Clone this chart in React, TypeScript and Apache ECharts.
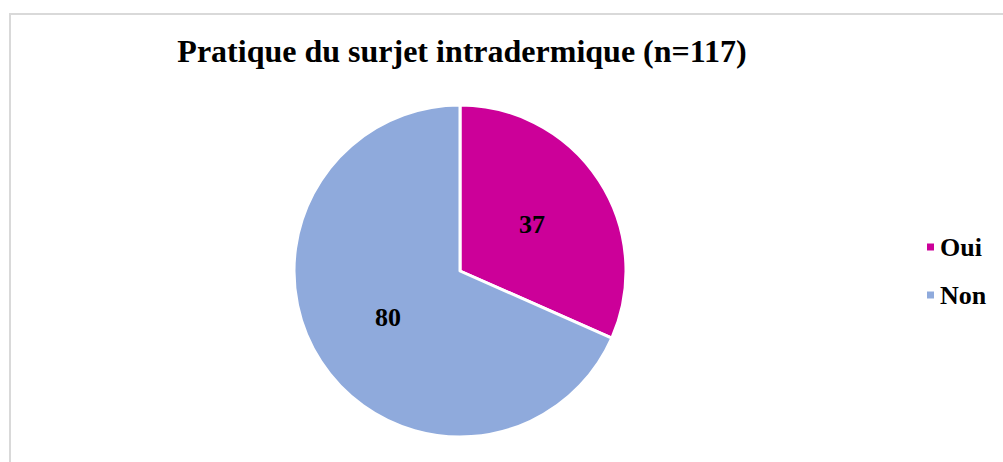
import React, { useEffect, useRef } from "react";
import * as echarts from "echarts";

const categories = ["Oui", "Non"];
const values = [37, 80];
const colors = ["#CC0099", "#8FAADC"];
const titleText = "Pratique du surjet intradermique (n=117)";

export default function App() {
  const ref = useRef<HTMLDivElement>(null);
  useEffect(() => {
    if (!ref.current) return;
    const chart = echarts.init(ref.current, null, { renderer: "svg" });
    chart.setOption({
      animation: false,
      backgroundColor: "#ffffff",
      title: {
        text: titleText,
        left: 457,
        textAlign: "center",
        top: 30,
        textStyle: {
          fontFamily: "Liberation Serif",
          fontWeight: "bold",
          fontSize: 32,
          color: "#000000",
        },
      },
      graphic: [
        {
          type: "rect",
          shape: { x: 10, y: 14, width: 1010, height: 470 },
          style: { fill: "none", stroke: "#d9d9d9", lineWidth: 2 },
          silent: true,
        },
      ],
      legend: {
        orient: "vertical",
        left: 920,
        top: 229,
        itemWidth: 9,
        itemHeight: 9,
        itemGap: 22,
        icon: "rect",
        textStyle: {
          fontFamily: "Liberation Serif",
          fontWeight: "bold",
          fontSize: 26,
          color: "#000000",
        },
        data: categories,
      },
      series: [
        {
          type: "pie",
          center: [460, 271],
          radius: [0, 166],
          startAngle: 90,
          clockwise: true,
          itemStyle: { borderColor: "#ffffff", borderWidth: 3 },
          label: {
            show: true,
            position: "inside",
            formatter: "{c}",
            fontFamily: "Liberation Serif",
            fontWeight: "bold",
            fontSize: 26,
            color: "#000000",
          },
          labelLine: { show: false },
          data: categories.map((c, i) => ({
            name: c,
            value: values[i],
            itemStyle: { color: colors[i] },
          })),
        },
      ],
    });
    return () => chart.dispose();
  }, []);
  return (
    <div
      ref={ref}
      style={{ position: "fixed", left: 0, top: 0, width: 1003, height: 462 }}
    />
  );
}
